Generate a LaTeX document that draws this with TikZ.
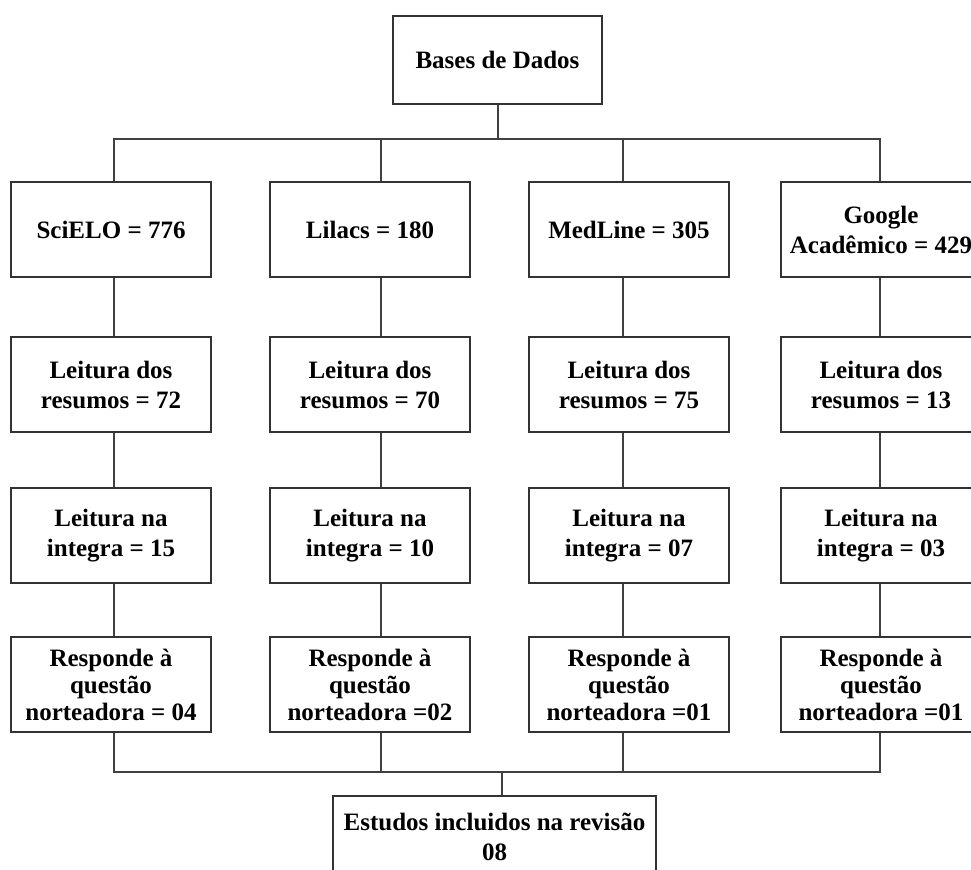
\documentclass[tikz,border=0pt]{standalone}
\usepackage{fontspec}
\setmainfont{Liberation Serif}
\usetikzlibrary{positioning}

\begin{document}
\begin{tikzpicture}[x=0.5pt,y=-0.5pt,
  font=\bfseries\fontsize{12.5}{15}\selectfont,
  bx/.style={draw=black!80,line width=1pt,align=flush center,text width=96pt,minimum width=100pt,minimum height=47.5pt,inner sep=1pt,fill=white},
  bq/.style={bx,font=\bfseries\fontsize{12.5}{13.5}\selectfont},
  ln/.style={draw=black!75,line width=1pt}, node distance=28.5pt]
  \path[use as bounding box,clip] (0,0) rectangle (971,870);
  \node[bx,text width=100pt,minimum width=104.5pt,minimum height=44pt] (db) at (497.5,60) {Bases de Dados};
  \node[bx] (s1) at (111,229.5) {SciELO = 776};
  \node[bx,right=of s1] (l1) {Lilacs = 180};
  \node[bx,right=of l1] (m1) {MedLine = 305};
  \node[bx,right=25pt of m1] (g1) {Google\\ Acadêmico = 429};
  \node[bx,below=29pt of s1] (s2) {Leitura dos\\ resumos = 72};
  \node[bx,below=29pt of l1] (l2) {Leitura dos\\ resumos = 70};
  \node[bx,below=29pt of m1] (m2) {Leitura dos\\ resumos = 75};
  \node[bx,below=29pt of g1] (g2) {Leitura dos\\ resumos = 13};
  \node[bx,below=27pt of s2] (s3) {Leitura na\\ integra = 15};
  \node[bx,below=27pt of l2] (l3) {Leitura na\\ integra = 10};
  \node[bx,below=27pt of m2] (m3) {Leitura na\\ integra = 07};
  \node[bx,below=27pt of g2] (g3) {Leitura na\\ integra = 03};
  \node[bq,below=26pt of s3] (s4) {Responde à\\ questão\\ norteadora = 04};
  \node[bq,below=26pt of l3] (l4) {Responde à\\ questão\\ norteadora =02};
  \node[bq,below=26pt of m3] (m4) {Responde à\\ questão\\ norteadora =01};
  \node[bq,below=26pt of g3] (g4) {Responde à\\ questão\\ norteadora =01};
  \node[bx,text width=158pt,minimum width=161.5pt,minimum height=41pt] (inc) at (494.5,837) {Estudos incluidos na revisão\\ 08};
  \foreach \c/\dx in {s/1.5pt,l/5.5pt,m/-3pt,g/-0.5pt}{
    \draw[ln] (db.south) -- ++(0,-17pt) -| ([xshift=\dx]\c1.north);
    \draw[ln] ([xshift=\dx]\c1.south) -- ([xshift=\dx]\c2.north);
    \draw[ln] ([xshift=\dx]\c2.south) -- ([xshift=\dx]\c3.north);
    \draw[ln] ([xshift=\dx]\c3.south) -- ([xshift=\dx]\c4.north);
    \draw[ln] ([xshift=\dx]\c4.south) -- ++(0,-19.5pt) -| ([xshift=3.75pt]inc.north);
  }
\end{tikzpicture}
\end{document}
